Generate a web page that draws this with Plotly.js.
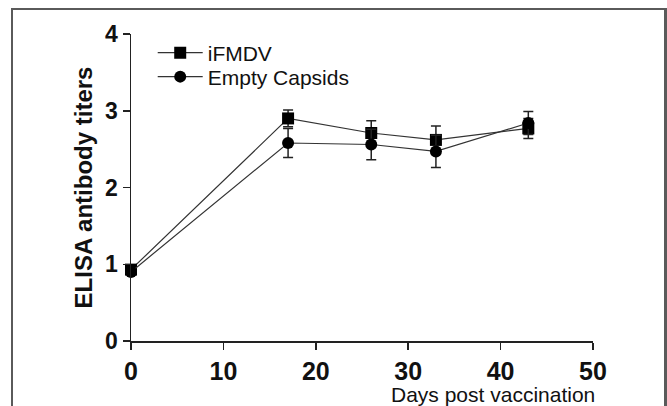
<!DOCTYPE html>
<html>
<head>
<meta charset="utf-8">
<script src="https://cdn.plot.ly/plotly-3.0.1.min.js"></script>
<style>
html,body{margin:0;padding:0;width:667px;height:406px;overflow:hidden;background:#fff;}
#frame{position:absolute;left:11px;top:8px;width:656px;height:430px;border:2px solid #5a5a5a;border-right-width:3px;box-sizing:border-box;}
#chart{position:absolute;left:0;top:0;width:667px;height:406px;}
</style>
</head>
<body>
<div id="frame"></div>
<div id="chart"></div>
<script>
// Data
const days = [0, 17, 26, 33, 43];
const ifmdv = [0.93, 2.90, 2.71, 2.62, 2.77];
const ifmdvErr = [0.04, 0.11, 0.16, 0.18, 0.13];
const capsids = [0.90, 2.58, 2.56, 2.47, 2.84];
const capsidsErr = [0.04, 0.19, 0.20, 0.21, 0.15];
const seriesNames = ['iFMDV', 'Empty Capsids'];
const xTicks = [0, 10, 20, 30, 40, 50];
const yTicks = [0, 1, 2, 3, 4];

const FONT = 'Liberation Sans, Arial, sans-serif';

const errStyle = {type: 'data', visible: true, color: '#222', thickness: 1.5, width: 5};

const traces = [
  {
    x: days, y: ifmdv, name: seriesNames[0], type: 'scatter', mode: 'lines+markers',
    line: {color: '#333', width: 1.2},
    marker: {symbol: 'square', size: 12, color: '#000'},
    error_y: Object.assign({array: ifmdvErr}, errStyle),
    cliponaxis: false, legend: 'legend'
  },
  {
    x: days, y: capsids, name: seriesNames[1], type: 'scatter', mode: 'lines+markers',
    line: {color: '#333', width: 1.2},
    marker: {symbol: 'circle', size: 12, color: '#000'},
    error_y: Object.assign({array: capsidsErr}, errStyle),
    cliponaxis: false, legend: 'legend2'
  }
];

const legendBase = {
  xanchor: 'left', yanchor: 'middle',
  font: {family: FONT, size: 21, color: '#111'},
  bgcolor: 'rgba(0,0,0,0)', itemwidth: 45
};

const layout = {
  width: 667, height: 406,
  margin: {l: 131, r: 74, t: 34, b: 65},
  paper_bgcolor: 'rgba(0,0,0,0)',
  plot_bgcolor: 'rgba(0,0,0,0)',
  showlegend: true,
  legend: Object.assign({x: 0.047, y: 0.938}, legendBase),
  legend2: Object.assign({x: 0.047, y: 0.860}, legendBase),
  xaxis: {
    range: [0, 50], tickvals: xTicks, ticktext: xTicks.map(String),
    showgrid: false, zeroline: false, showline: true, linecolor: '#222', linewidth: 1.5,
    ticks: 'outside', ticklen: 7, tickwidth: 1.5, tickcolor: '#222',
    tickfont: {family: FONT, size: 25, color: '#111', weight: 'bold'},
    fixedrange: true
  },
  yaxis: {
    range: [0, 4], tickvals: yTicks, ticktext: yTicks.map(String),
    showgrid: false, zeroline: false, showline: true, linecolor: '#222', linewidth: 1.5,
    ticks: 'outside', ticklen: 7, tickwidth: 1.5, tickcolor: '#222',
    tickfont: {family: FONT, size: 23, color: '#111', weight: 'bold'},
    title: {text: 'ELISA antibody titers', font: {family: FONT, size: 24, color: '#111', weight: 'bold'}, standoff: 5},
    fixedrange: true
  },
  annotations: [{
    text: 'Days post vaccination', xref: 'paper', yref: 'paper',
    x: 1, y: 0, xanchor: 'right', yanchor: 'middle', xshift: 4, yshift: -53,
    showarrow: false, font: {family: FONT, size: 21, color: '#111'}
  }]
};

Plotly.newPlot('chart', traces, layout, {displayModeBar: false, staticPlot: true});
</script>
</body>
</html>
